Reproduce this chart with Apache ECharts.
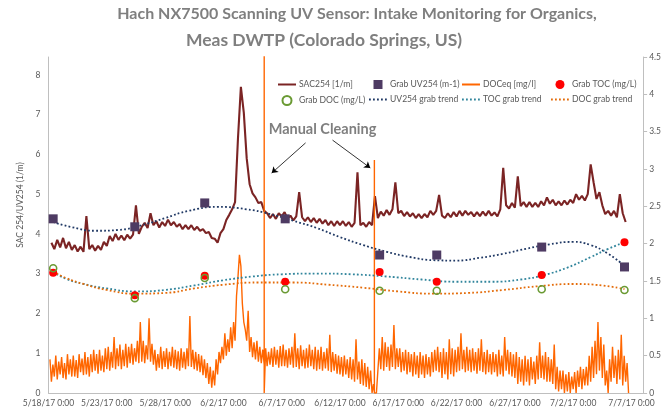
<!DOCTYPE html>
<html>
<head>
<meta charset="utf-8">
<script src="https://cdn.jsdelivr.net/npm/echarts@6/dist/echarts.min.js"></script>
<style>
  html, body { margin: 0; padding: 0; background: #fff; }
  #main { width: 664px; height: 419px; }
</style>
</head>
<body>
<div id="main"></div>
<script>
// days counted from 5/18/17 0:00
const startDate = new Date(2017, 4, 18);

// SAC254 [1/m], one reading every 6 h (one line = one day)
const sacStep = 0.25;
const sac254 = [
  3.78, 3.62, 3.85, 3.66,
  3.90, 3.64, 3.80, 3.60,
  3.72, 3.56, 3.68, 3.55,
  4.45, 3.62, 3.72, 3.58,
  3.70, 3.60, 3.80, 3.70,
  3.95, 3.82, 4.00, 3.85,
  3.96, 3.84, 3.98, 3.88,
  3.98, 4.72, 4.00, 4.18,
  4.28, 4.15, 4.52, 4.22,
  4.32, 4.16, 4.30, 4.20,
  4.36, 4.22, 4.30, 4.18,
  4.25, 4.12, 4.22, 4.12,
  4.22, 4.10, 4.18, 4.08,
  4.12, 4.02, 4.05, 3.90,
  3.88, 3.78, 4.02, 4.12,
  4.35, 4.48, 4.62, 4.80,
  6.40, 7.70, 7.05, 5.90,
  5.25, 5.02, 4.92, 4.78,
  4.80, 4.58, 4.52, 4.40,
  4.50, 4.38, 4.52, 4.44,
  4.55, 4.38, 4.46, 4.34,
  4.44, 5.05, 4.42, 4.32,
  4.42, 4.30, 4.40, 4.28,
  4.38, 4.26, 4.35, 4.22,
  4.32, 4.20, 4.32, 4.22,
  4.32, 4.20, 4.30, 4.18,
  4.28, 5.55, 4.22, 4.28,
  4.18, 4.30, 4.22, 4.95,
  4.40, 4.56, 4.46, 4.60,
  4.48, 4.62, 5.30, 4.52,
  4.58, 4.45, 4.55, 4.44,
  4.52, 4.40, 4.50, 4.40,
  4.50, 4.42, 4.58, 4.48,
  4.58, 4.98, 4.46, 4.40,
  4.52, 4.42, 4.55, 4.44,
  4.58, 4.46, 4.58, 4.48,
  4.55, 4.44, 4.55, 4.45,
  4.56, 4.46, 4.58, 4.46,
  4.54, 4.44, 4.62, 5.66,
  4.72, 4.64, 4.78, 4.66,
  5.45, 4.70, 4.80, 4.68,
  4.80, 4.68, 4.78, 4.68,
  4.82, 4.72, 4.92, 4.76,
  4.86, 4.72, 4.82, 4.72,
  4.84, 4.74, 4.86, 4.78,
  5.00, 4.86, 4.96, 4.84,
  5.00, 5.75, 5.30, 4.88,
  5.05, 4.72, 4.50, 4.58,
  4.46, 4.58, 4.42, 5.00,
  4.52, 4.30
];

// DOCeq [mg/l], one reading every 3 h (one line = one day)
const docStep = 0.125;
const doceq = [
  0.45, 0.15, 0.38, 0.22, 0.50, 0.18, 0.42, 0.25,
  0.48, 0.20, 0.40, 0.18, 0.52, 0.25, 0.45, 0.22,
  0.50, 0.22, 0.44, 0.20, 0.52, 0.28, 0.46, 0.24,
  0.55, 0.25, 0.48, 0.22, 0.52, 0.28, 0.58, 0.30,
  0.52, 0.26, 0.58, 0.30, 0.50, 0.28, 0.60, 0.32,
  0.62, 0.30, 0.55, 0.34, 0.75, 0.32, 0.60, 0.36,
  0.65, 0.32, 0.58, 0.36, 0.66, 0.34, 0.62, 0.40,
  0.66, 0.38, 0.60, 0.42, 0.70, 0.40, 0.95, 0.42,
  0.70, 0.40, 0.64, 0.45, 1.00, 0.42, 0.66, 0.38,
  0.58, 0.30, 0.52, 0.34, 0.62, 0.32, 0.56, 0.35,
  0.60, 0.32, 0.55, 0.36, 0.62, 0.34, 0.58, 0.32,
  0.56, 0.30, 0.60, 0.34, 0.55, 0.32, 0.60, 0.36,
  1.03, 0.35, 0.58, 0.32, 0.55, 0.30, 0.52, 0.28,
  0.50, 0.24, 0.45, 0.20, 0.40, 0.12, 0.35, 0.07,
  0.30, 0.10, 0.45, 0.25, 0.55, 0.40, 0.62, 0.45,
  0.80, 0.50, 0.72, 0.55, 0.88, 0.60, 0.95, 0.70,
  1.30, 1.55, 1.85, 1.70, 1.20, 0.95, 0.85, 0.70,
  1.10, 0.55, 0.75, 0.48, 0.68, 0.45, 0.70, 0.42,
  0.62, 0.40, 0.58, 0.38, 0.60, 0.36, 0.55, 0.38,
  0.60, 0.35, 0.62, 0.38, 0.58, 0.34, 0.63, 0.36,
  0.65, 0.36, 0.58, 0.34, 0.60, 0.38, 0.62, 0.34,
  0.80, 0.35, 0.60, 0.32, 0.64, 0.36, 0.58, 0.33,
  0.60, 0.34, 0.65, 0.36, 0.58, 0.32, 0.62, 0.30,
  0.58, 0.32, 0.62, 0.30, 0.55, 0.33, 0.60, 0.30,
  0.78, 0.28, 0.55, 0.30, 0.52, 0.26, 0.50, 0.25,
  0.48, 0.22, 0.50, 0.25, 0.45, 0.20, 0.48, 0.18,
  0.45, 0.15, 0.72, 0.18, 0.42, 0.12, 0.45, 0.10,
  0.40, 0.08, 0.35, 0.05, 0.30, 0.00, 0.12, 0.00,
  0.00, 0.00, 0.60, 0.32, 0.75, 0.30, 0.68, 0.35,
  0.62, 0.30, 0.65, 0.35, 0.91, 0.32, 0.60, 0.35,
  0.60, 0.28, 0.55, 0.30, 0.58, 0.25, 0.55, 0.28,
  0.52, 0.22, 0.55, 0.25, 0.50, 0.20, 0.55, 0.25,
  0.50, 0.20, 0.52, 0.25, 0.48, 0.22, 0.55, 0.28,
  0.58, 0.30, 0.62, 0.28, 0.55, 0.20, 0.60, 0.25,
  0.55, 0.18, 0.72, 0.25, 0.60, 0.22, 0.58, 0.28,
  0.62, 0.30, 0.80, 0.32, 0.58, 0.28, 0.62, 0.30,
  0.58, 0.28, 0.60, 0.30, 0.55, 0.26, 0.60, 0.30,
  0.72, 0.28, 0.55, 0.25, 0.58, 0.28, 0.52, 0.25,
  0.55, 0.28, 0.52, 0.22, 0.58, 0.25, 0.50, 0.22,
  0.75, 0.30, 0.58, 0.25, 0.55, 0.22, 0.52, 0.20,
  0.55, 0.12, 0.48, 0.15, 0.45, 0.10, 0.50, 0.15,
  0.45, 0.10, 0.48, 0.18, 0.42, 0.12, 0.50, 0.18,
  0.68, 0.20, 0.50, 0.18, 0.55, 0.15, 0.48, 0.15,
  0.45, 0.12, 0.65, 0.05, 0.35, 0.02, 0.30, 0.05,
  0.30, 0.00, 0.25, 0.02, 0.28, 0.00, 0.22, 0.05,
  0.28, 0.00, 0.30, 0.08, 0.35, 0.05, 0.32, 0.10,
  0.35, 0.10, 0.50, 0.15, 0.62, 0.20, 0.70, 0.25,
  0.95, 0.30, 0.75, 0.20, 0.65, 0.10, 0.30, 0.00,
  0.45, 0.15, 0.62, 0.20, 0.50, 0.12, 0.58, 0.18,
  0.78, 0.10, 0.50, 0.15, 0.40, 0.00
];

// manual cleaning events: DOCeq reading jumps then drops to 0
const cleaningDays = [18.5, 27.95];
const cleaningPeaks = [5.2, 3.12];

// grab samples
const grabDays = [0.4, 7.4, 13.4, 20.3, 28.4, 33.3, 42.3, 49.4];
const grabUV = [4.38, 4.18, 4.78, 4.38, 3.47, 3.47, 3.67, 3.17];
const grabTOC = [1.61, 1.31, 1.57, 1.49, 1.62, 1.49, 1.58, 2.02];
const grabDOC = [1.67, 1.27, 1.54, 1.39, 1.37, 1.37, 1.39, 1.38];

// trend lines through the grab samples
const uvTrendDays = [0.4, 2, 4, 6, 8, 10, 12, 14.5, 17, 19, 21, 23, 25, 27, 29, 31, 33, 35, 37, 39, 41, 43, 45, 46.5, 48, 49.4];
const uvTrendVals = [4.30, 4.17, 4.08, 4.10, 4.22, 4.40, 4.58, 4.68, 4.62, 4.50, 4.33, 4.15, 3.92, 3.72, 3.55, 3.42, 3.34, 3.33, 3.40, 3.50, 3.63, 3.74, 3.80, 3.72, 3.50, 3.20];
const tocTrendDays = [0.4, 1.5, 3, 5, 7.5, 10, 12.5, 15, 17.5, 20, 23, 26, 29, 32, 35, 38, 40.5, 42.5, 44.5, 46.5, 48, 49.4];
const tocTrendVals = [1.62, 1.53, 1.46, 1.40, 1.36, 1.38, 1.44, 1.51, 1.56, 1.59, 1.60, 1.59, 1.56, 1.52, 1.49, 1.49, 1.52, 1.58, 1.68, 1.82, 1.93, 2.02];
const docTrendDays = [0.4, 1.5, 3, 5, 7.5, 10, 12.5, 15, 18, 21, 24, 27, 30, 33, 36, 39, 42, 45, 47.5, 49.4];
const docTrendVals = [1.63, 1.54, 1.46, 1.38, 1.33, 1.34, 1.40, 1.45, 1.48, 1.48, 1.45, 1.41, 1.36, 1.33, 1.34, 1.38, 1.43, 1.46, 1.44, 1.39];

function zip(xs, ys) {
  return xs.map((x, i) => [x, ys[i]]);
}

function dayLabel(d) {
  if (d % 5 !== 0) return '';
  const t = new Date(startDate.getTime() + d * 86400000);
  return (t.getMonth() + 1) + '/' + t.getDate() + '/' + String(t.getFullYear()).slice(2) + ' 0:00';
}

const sacData = sac254.map((v, i) => [(i + 1) * sacStep, v]);
let docData = doceq.map((v, i) => [(i + 1) * docStep, v]);
cleaningDays.forEach((c, i) => {
  docData.push([c, 0], [c, cleaningPeaks[i]], [c, 0]);
});
docData.sort((a, b) => a[0] - b[0]);

const font = 'Lato, "Noto Sans", sans-serif';
const labelGrey = '#595959';
const axisGrey = '#BFBFBF';

const chart = echarts.init(document.getElementById('main'));

// line entries: hide the marker ECharts puts in the middle of the legend line
function lineItem(name) {
  return { name: name, itemStyle: { opacity: 0 } };
}

function legendCol(left, items) {
  return {
    data: items,
    orient: 'vertical',
    left: left,
    top: 80,
    itemWidth: 18,
    itemHeight: 9,
    itemGap: 6,
    padding: 0,
    textStyle: { fontFamily: font, fontSize: 8.6, color: labelGrey, padding: [0, 0, 0, -2] }
  };
}

const option = {
  animation: false,
  title: [{
    text: 'Hach NX7500 Scanning UV Sensor: Intake Monitoring for Organics,',
    left: 357,
    top: 6,
    padding: 0,
    textAlign: 'center',
    textStyle: { fontFamily: font, fontSize: 16, fontWeight: 'bold', color: '#7F7F7F' }
  }, {
    text: 'Meas DWTP (Colorado Springs, US)',
    left: 324,
    top: 31,
    padding: 0,
    textAlign: 'center',
    textStyle: { fontFamily: font, fontSize: 17.5, fontWeight: 'bold', color: '#7F7F7F' }
  }],
  legend: [
    legendCol(277, [lineItem('SAC254 [1/m]'), 'Grab DOC (mg/L)']),
    legendCol(368, [{ name: 'Grab UV254 (m-1)', icon: 'path://M0 0h1v1h-1z' }, lineItem('UV254 grab trend')]),
    legendCol(461, [lineItem('DOCeq [mg/l]'), lineItem('TOC grab trend')]),
    legendCol(550, ['Grab TOC (mg/L)', lineItem('DOC grab trend')])
  ],
  grid: { left: 48.5, right: 20, top: 57, bottom: 26 },
  xAxis: {
    type: 'value',
    min: 0,
    max: 51,
    interval: 5,
    axisLine: { lineStyle: { color: axisGrey } },
    axisTick: { show: false },
    splitLine: { show: false },
    axisLabel: { formatter: dayLabel, fontFamily: font, fontSize: 8.5, color: labelGrey, margin: 6, showMaxLabel: false }
  },
  yAxis: [{
    type: 'value',
    min: 0,
    max: 8.45,
    interval: 1,
    name: 'SAC 254/UV254 (1/m)',
    nameLocation: 'middle',
    nameGap: 17,
    nameTextStyle: { fontFamily: font, fontSize: 8.5, color: labelGrey, padding: [0, 0, 0, 40] },
    axisLine: { show: true, lineStyle: { color: axisGrey } },
    axisTick: { show: false },
    splitLine: { show: false },
    axisLabel: {
      formatter: v => (Number.isInteger(v) ? String(v) : ''),
      fontFamily: font, fontSize: 8.5, color: labelGrey, margin: 8
    }
  }, {
    type: 'value',
    min: 0,
    max: 4.5,
    interval: 0.5,
    position: 'right',
    axisLine: { show: true, lineStyle: { color: axisGrey } },
    axisTick: { show: true, length: 4, lineStyle: { color: axisGrey } },
    splitLine: { show: false },
    axisLabel: { fontFamily: font, fontSize: 8.5, color: labelGrey, margin: 6 }
  }],
  series: [{
    name: 'SAC254 [1/m]',
    type: 'line',
    yAxisIndex: 0,
    data: sacData,
    symbol: 'none',
    z: 2,
    lineStyle: { color: '#7B2424', width: 2.1 },
    itemStyle: { color: '#7B2424' },
    markLine: {
      silent: true,
      symbol: ['none', 'arrow'],
      symbolSize: 6,
      label: { show: false },
      lineStyle: { color: '#000', width: 0.8, type: 'solid' },
      data: [
        [{ coord: [22.05, 6.29] }, { coord: [19.14, 5.53] }],
        [{ coord: [24.36, 6.36] }, { coord: [27.6, 5.66] }]
      ]
    },
    markPoint: {
      silent: true,
      symbol: 'circle',
      symbolSize: 0,
      data: [{ coord: [23.5, 6.64], value: 0 }],
      label: {
        show: true, position: 'inside', formatter: 'Manual Cleaning',
        fontFamily: font, fontSize: 14.5, fontWeight: 'bold', color: '#7F7F7F'
      }
    }
  }, {
    name: 'DOCeq [mg/l]',
    type: 'line',
    yAxisIndex: 1,
    data: docData,
    symbol: 'none',
    z: 3,
    lineStyle: { color: '#FF6600', width: 1.4 },
    itemStyle: { color: '#FF6600' }
  }, {
    name: 'UV254 grab trend',
    type: 'line',
    yAxisIndex: 0,
    data: zip(uvTrendDays, uvTrendVals),
    smooth: true,
    symbol: 'none',
    z: 4,
    lineStyle: { color: '#1F3864', width: 1.8, type: [1.8, 2.2] },
    itemStyle: { color: '#1F3864' }
  }, {
    name: 'TOC grab trend',
    type: 'line',
    yAxisIndex: 1,
    data: zip(tocTrendDays, tocTrendVals),
    smooth: true,
    symbol: 'none',
    z: 4,
    lineStyle: { color: '#31859C', width: 1.8, type: [1.8, 2.2] },
    itemStyle: { color: '#31859C' }
  }, {
    name: 'DOC grab trend',
    type: 'line',
    yAxisIndex: 1,
    data: zip(docTrendDays, docTrendVals),
    smooth: true,
    symbol: 'none',
    z: 4,
    lineStyle: { color: '#E46C0A', width: 1.8, type: [1.8, 2.2] },
    itemStyle: { color: '#E46C0A' }
  }, {
    name: 'Grab UV254 (m-1)',
    type: 'scatter',
    yAxisIndex: 0,
    data: zip(grabDays, grabUV),
    symbol: 'rect',
    symbolSize: 9,
    z: 5,
    itemStyle: { color: '#4E3B63', opacity: 1 }
  }, {
    name: 'Grab TOC (mg/L)',
    type: 'scatter',
    yAxisIndex: 1,
    data: zip(grabDays, grabTOC),
    symbol: 'circle',
    symbolSize: 8,
    z: 5,
    itemStyle: { color: '#FF0000', opacity: 1 }
  }, {
    name: 'Grab DOC (mg/L)',
    type: 'scatter',
    yAxisIndex: 1,
    data: zip(grabDays, grabDOC),
    symbol: 'circle',
    symbolSize: 7,
    z: 6,
    itemStyle: { color: 'rgba(255,255,255,0)', borderColor: '#6A9A33', borderWidth: 1.6, opacity: 1 }
  }]
};

chart.setOption(option);
</script>
</body>
</html>
